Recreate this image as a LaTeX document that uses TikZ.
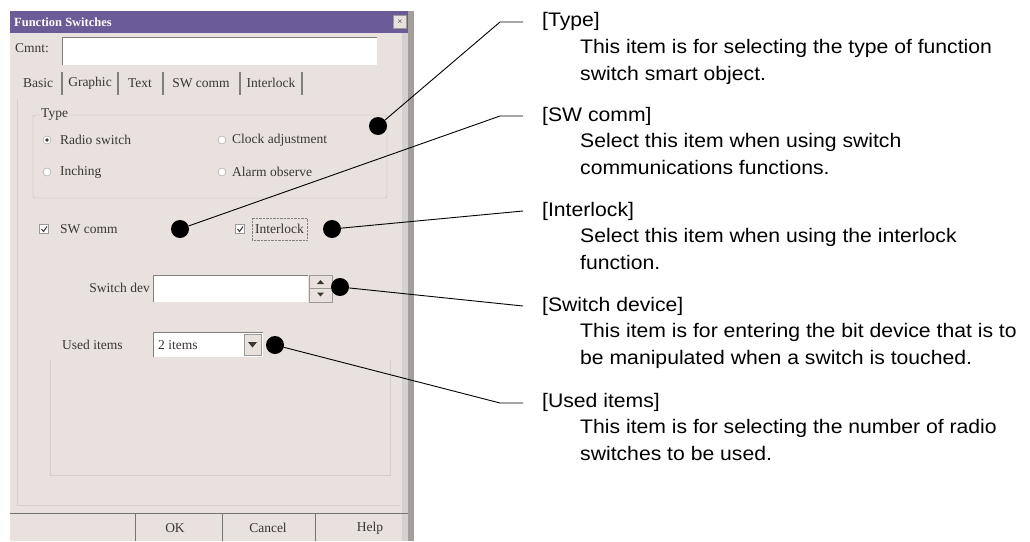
\documentclass[tikz,border=0pt]{standalone}
\usepackage{fontspec}
\setmainfont{Liberation Sans}
\newfontfamily\notefont[FakeStretch=1.08]{Liberation Sans}
\newfontfamily\dlgfont{Liberation Serif}
\usetikzlibrary{positioning}

\definecolor{dlgface}{HTML}{E8E1DD}
\definecolor{dlgtitle}{HTML}{6B5B96}
\definecolor{dlgedge}{HTML}{A69E9A}
\definecolor{dlgtext}{HTML}{3A3634}
\definecolor{dlgline}{HTML}{D6CECA}

\tikzset{
  dlg/.style={font=\dlgfont\fontsize{13.5}{14}\selectfont, text=dlgtext, inner sep=0pt},
  note/.style={anchor=north west, align=left, inner sep=0pt, font=\notefont\fontsize{19.6}{26.7}\selectfont},
  spot/.style={circle, fill=black, minimum size=18pt, inner sep=0pt},
  leader/.style={black, line width=0.9pt},
  field/.style={fill=white, draw=gray!70},
  radio/.style={circle, fill=white, draw=gray!80, minimum size=8pt, inner sep=0pt},
  tickbox/.style={fill=white, draw=gray!80, minimum size=9pt, inner sep=0pt}
}

\begin{document}
\begin{tikzpicture}[x=1pt,y=-1pt]
\useasboundingbox (0,0) rectangle (1030,541);

% dialog body
\fill[dlgface] (10,11) rectangle (414,541);
\fill[dlgtitle] (10,11) rectangle (408,33);
\node[font=\dlgfont\bfseries\fontsize{12.5}{13}\selectfont, text=white, anchor=west, inner sep=0pt] (title) at (14,22) {Function Switches};
\node[draw=gray!80, fill=dlgface, minimum size=13pt, inner sep=0pt, font=\scriptsize] (closebtn) at (400,22) {$\times$};
\fill[gray!35] (402,33) rectangle (408,541);
\fill[dlgedge] (408,11) rectangle (414,541);

% comment row
\node[dlg, anchor=west] (cmnt) at (15,48) {Cmnt:};
\fill[field, draw=none] (62,37) rectangle (377,65);
\draw[gray] (62,65) -- (62,37) -- (377,37);

% tab strip
\node[dlg] (tabbasic) at (38,83) {Basic};
\node[dlg] (tabgraphic) at (90,83) {Graphic};
\node[dlg] (tabtext) at (140,83) {Text};
\node[dlg] (tabsw) at (201,83) {SW comm};
\node[dlg] (tablock) at (271,83) {Interlock};
\foreach \x in {62,118,163,240,302}
  \draw[gray, line width=1.5pt] (\x,72) -- (\x,95);
\draw[dlgline] (17,99) -- (17,505) -- (400,505);
\draw[dlgline] (50,360) -- (50,475) -- (390,475) -- (390,360);

% type group
\draw[gray!55, rounded corners=2pt] (33,115) rectangle (387,198);
\node[dlg, fill=dlgface, inner xsep=1pt, anchor=west] (typegrp) at (40,115) {Type};
\node[radio] (rbradio) at (47,140) {};
\fill[dlgtext] (rbradio) circle (1.8pt);
\node[dlg, anchor=west] at (60,140) {Radio switch};
\node[radio] (rbclock) at (222,140) {};
\node[dlg, anchor=west] at (232,140) {Clock adjustment};
\node[radio] (rbinch) at (47,172) {};
\node[dlg, anchor=west] at (60,172) {Inching};
\node[radio] (rbalarm) at (222,172) {};
\node[dlg, anchor=west] at (232,172) {Alarm observe};

% check boxes
\node[tickbox] (cbsw) at (44,229) {};
\draw[dlgtext, line width=1pt] ([shift={(-2.5,0)}]cbsw.center) -- ([shift={(-0.5,2.5)}]cbsw.center) -- ([shift={(3,-2.5)}]cbsw.center);
\node[dlg, anchor=west] at (60,229) {SW comm};
\node[tickbox] (cblock) at (240,229) {};
\draw[dlgtext, line width=1pt] ([shift={(-2.5,0)}]cblock.center) -- ([shift={(-0.5,2.5)}]cblock.center) -- ([shift={(3,-2.5)}]cblock.center);
\node[dlg, anchor=west] (locktext) at (255,229) {Interlock};
\draw[gray, densely dotted] (252,218) rectangle (307,240);

% switch device
\node[dlg, anchor=east] (devlabel) at (150,288) {Switch dev};
\fill[white] (153,275) rectangle (308,302);
\draw[gray] (153,302) -- (153,275) -- (308,275);
\draw[gray!80, fill=dlgface] (309,275) rectangle (332,288.5);
\draw[gray!80, fill=dlgface] (309,288.5) rectangle (332,302);
\fill[dlgtext] (317,284) -- (324,284) -- (320.5,280) -- cycle;
\fill[dlgtext] (317,292.5) -- (324,292.5) -- (320.5,296.5) -- cycle;

% used items
\node[dlg, anchor=west] (usedlabel) at (62,345) {Used items};
\fill[white] (153,332) rectangle (263,357);
\draw[gray] (153,357) -- (153,332) -- (263,332);
\node[dlg, anchor=west] (useditems) at (158,345) {2 items};
\draw[gray!80, fill=dlgface] (244,334) rectangle (261,355);
\fill[dlgtext] (248,342) -- (257,342) -- (252.5,347.5) -- cycle;

% button row
\draw[gray!90!black, line width=1pt] (10,513) -- (408,513);
\foreach \x in {135,222,315}
  \draw[gray!90!black, line width=1pt] (\x,513) -- (\x,541);
\node[dlg] (okbtn) at (175,528) {OK};
\node[dlg] (cancelbtn) at (268,528) {Cancel};
\node[dlg] (helpbtn) at (370,528) {Help};

% marker spots
\node[spot] (typespot) at (378,126) {};
\node[spot] (swspot) at (180,229) {};
\node[spot] (lockspot) at (332,229) {};
\node[spot] (devspot) at (340,287) {};
\node[spot] (usedspot) at (275,345) {};

% notes
\node[note] (typenote) at (542,7.8) {\strut[Type]\\\hspace*{38pt}\strut This item is for selecting the type of function\\\hspace*{38pt}\strut switch smart object.};
\node[note] (swnote) at (542,102.3) {\strut[SW comm]\\\hspace*{38pt}\strut Select this item when using switch\\\hspace*{38pt}\strut communications functions.};
\node[note] (locknote) at (542,197.3) {\strut[Interlock]\\\hspace*{38pt}\strut Select this item when using the interlock\\\hspace*{38pt}\strut function.};
\node[note] (devnote) at (542,292.3) {\strut[Switch device]\\\hspace*{38pt}\strut This item is for entering the bit device that is to\\\hspace*{38pt}\strut be manipulated when a switch is touched.};
\node[note] (usednote) at (542,388.3) {\strut[Used items]\\\hspace*{38pt}\strut This item is for selecting the number of radio\\\hspace*{38pt}\strut switches to be used.};

% leaders
\coordinate (typetip) at (523,22);
\coordinate (swtip) at (523,116);
\coordinate (locktip) at (523,211);
\coordinate (devtip) at (523,306);
\coordinate (usedtip) at (523,403);
\draw[leader] (typetip) -- ++(-23,0) -- (typespot);
\draw[leader] (swtip) -- ++(-23,0) -- (swspot);
\draw[leader] (locktip) -- (lockspot);
\draw[leader] (devtip) -- (devspot);
\draw[leader] (usedtip) -- ++(-23,0) -- (usedspot);
\end{tikzpicture}
\end{document}
